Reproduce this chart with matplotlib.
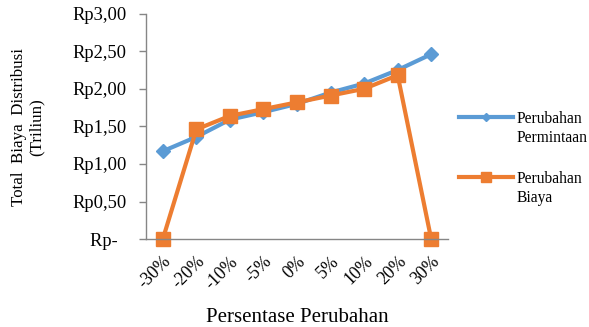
import matplotlib
matplotlib.use('Agg')
import matplotlib.pyplot as plt
from matplotlib.lines import Line2D

plt.rcParams['font.family'] = ['Liberation Serif', 'DejaVu Serif']

categories = ['-30%', '-20%', '-10%', '-5%', '0%', '5%', '10%', '20%', '30%']
permintaan = [1.17, 1.36, 1.59, 1.69, 1.80, 1.95, 2.07, 2.25, 2.46]
biaya = [0.00, 1.46, 1.64, 1.73, 1.82, 1.91, 2.00, 2.18, 0.00]
y_ticks = [0, 0.5, 1.0, 1.5, 2.0, 2.5, 3.0]
y_labels = ['Rp-  ', 'Rp0,50', 'Rp1,00', 'Rp1,50', 'Rp2,00', 'Rp2,50', 'Rp3,00']
series_names = ['Perubahan\nPermintaan', 'Perubahan\nBiaya']

blue = '#5B9BD5'
orange = '#ED7D31'
grey = '#868686'

W, H = 589, 327
fig = plt.figure(figsize=(W / 100, H / 100), dpi=100)
ax = fig.add_axes([146 / W, 1 - 239.2 / H, 302 / W, 225.6 / H])

x = list(range(len(categories)))
ax.plot(x, permintaan, color=blue, lw=3, marker='D', ms=7.5,
        solid_joinstyle='round', clip_on=False)
ax.plot(x, biaya, color=orange, lw=3, marker='s', ms=10,
        solid_joinstyle='round', clip_on=False)

ax.set_xlim(-0.5, len(categories) - 0.5)
ax.set_ylim(0, 3)
ax.set_yticks(y_ticks)
ax.set_yticklabels(y_labels, fontsize=13.3)
ax.set_xticks(x)
ax.set_xticklabels(categories, fontsize=12.8, rotation=45, ha='right',
                   rotation_mode='anchor')
ax.tick_params(axis='x', length=0, pad=10)
ax.tick_params(axis='y', length=5, color=grey, width=1, pad=9)

for s in ['top', 'right']:
    ax.spines[s].set_visible(False)
for s in ['left', 'bottom']:
    ax.spines[s].set_color(grey)
    ax.spines[s].set_linewidth(1)

ax.set_xlabel('Persentase Perubahan', fontsize=15, labelpad=11.5)
fig.text(28 / W, 1 - 127 / H, 'Total  Biaya  Distribusi\n(Triliun)', fontsize=12.2,
         rotation=90, ha='center', va='center', multialignment='center',
         linespacing=1.1)

# legend keys drawn by hand so the key sits on the first text line
keys = [(blue, 'D', 4.5, 117), (orange, 's', 6.5, 177)]
for (col, mk, msz, ypx), name in zip(keys, series_names):
    yf = 1 - ypx / H
    fig.add_artist(Line2D([459 / W, 513 / W], [yf, yf], color=col, lw=3,
                          transform=fig.transFigure))
    fig.add_artist(Line2D([486 / W], [yf], color=col, marker=mk, ms=msz,
                          lw=0, transform=fig.transFigure))
    fig.text(517 / W, 1 - (ypx - 6) / H, name, fontsize=11.2, ha='left',
             va='top', linespacing=1.25)

fig.savefig('out.png', dpi=100)
